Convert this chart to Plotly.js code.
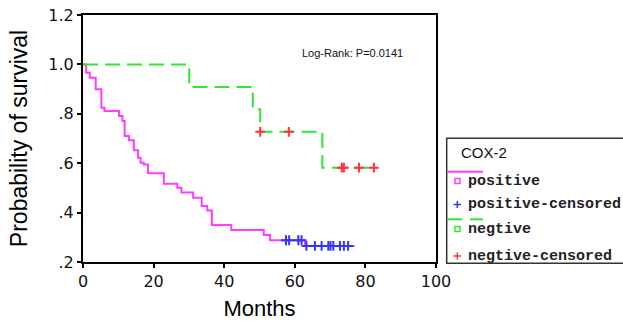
<!DOCTYPE html>
<html>
<head>
<meta charset="utf-8">
<script src="https://cdn.plot.ly/plotly-3.0.1.min.js"></script>
<style>html,body{margin:0;padding:0;background:#fff;}#chart{width:623px;height:324px;}</style>
</head>
<body>
<div id="chart"></div>
<script>
// ---- Data ----
const posTime = [0, 0.9, 1.9, 3.6, 5.2, 6.1, 10.2, 11.2, 11.8, 13.0, 14.4, 15.6, 16.3, 17.2, 18.4, 22.9, 26.7, 27.9, 31.2, 33.6, 35.2, 36.5, 42.0, 51.2, 53.0, 62.9, 77.0];
const posSurv = [1.0, 0.966, 0.946, 0.899, 0.825, 0.811, 0.791, 0.771, 0.710, 0.693, 0.652, 0.622, 0.602, 0.595, 0.559, 0.517, 0.501, 0.481, 0.460, 0.427, 0.409, 0.350, 0.330, 0.309, 0.288, 0.265, 0.265];
const posCensTime = [57.5, 58.4, 61.0, 61.9, 63.3, 65.7, 67.6, 69.5, 70.1, 70.9, 72.8, 73.9, 75.1];
const posCensSurv = [0.288, 0.288, 0.288, 0.288, 0.265, 0.265, 0.265, 0.265, 0.265, 0.265, 0.265, 0.265, 0.265];

const negTime = [0, 30.1, 48.1, 50.2, 67.8, 83.0];
const negSurv = [1.0, 0.909, 0.818, 0.727, 0.582, 0.582];
const negCensTime = [50.2, 58.3, 73.3, 73.9, 78.2, 82.4];
const negCensSurv = [0.727, 0.727, 0.582, 0.582, 0.582, 0.582];

const xTicks = [0, 20, 40, 60, 80, 100];
const yTickVals = [0.2, 0.4, 0.6, 0.8, 1.0, 1.2];
const yTickText = ['.2', '.4', '.6', '.8', '1.0', '1.2'];
const legendTitle = 'COX-2';
const legendLabels = ['positive', 'positive-censored', 'negtive', 'negtive-censored'];
const pText = 'Log-Rank: P=0.0141';

// ---- Colours ----
const cPos = '#ff3cff', cPosC = '#3333ff', cNeg = '#33e633', cNegC = '#ff3333';

// ---- Geometry ----
const W = 623, H = 324;
const M = {l: 83, r: 187, t: 15, b: 62};
const PL = M.l, PR = W - M.r, PT = M.t, PB = H - M.b;
const px = v => (v - PL) / (PR - PL);
const py = v => (PB - v) / (PB - PT);

const traces = [
  {x: posTime, y: posSurv, mode: 'lines', line: {shape: 'hv', color: cPos, width: 2}, showlegend: false, name: 'positive'},
  {x: posCensTime, y: posCensSurv, mode: 'markers', marker: {symbol: 'cross-thin-open', size: 7, color: cPosC, line: {color: cPosC, width: 2}}, showlegend: false, name: 'positive-censored'},
  {x: negTime, y: negSurv, mode: 'lines', line: {shape: 'hv', color: cNeg, width: 2, dash: '15px,7px'}, showlegend: false, name: 'negtive'},
  {x: negCensTime, y: negCensSurv, mode: 'markers', marker: {symbol: 'cross-thin-open', size: 7, color: cNegC, line: {color: cNegC, width: 2}}, showlegend: false, name: 'negtive-censored'}
];

const shapes = [];
const annotations = [];
// legend box
shapes.push({type: 'rect', xref: 'paper', yref: 'paper', x0: px(446.7), x1: px(660), y0: py(263.3), y1: py(138.3), line: {color: '#333', width: 1.5}});
// positive line + square
shapes.push({type: 'line', xref: 'paper', yref: 'paper', x0: px(447), x1: px(483), y0: py(171.7), y1: py(171.7), line: {color: cPos, width: 2}});
shapes.push({type: 'rect', xref: 'paper', yref: 'paper', x0: px(455), x1: px(460), y0: py(183.5), y1: py(178.5), line: {color: cPos, width: 1.5}});
// positive censored plus
shapes.push({type: 'line', xref: 'paper', yref: 'paper', x0: px(453.5), x1: px(461), y0: py(204.5), y1: py(204.5), line: {color: cPosC, width: 1.5}});
shapes.push({type: 'line', xref: 'paper', yref: 'paper', x0: px(457.3), x1: px(457.3), y0: py(201), y1: py(208), line: {color: cPosC, width: 1.5}});
// negative dashed line + square
shapes.push({type: 'line', xref: 'paper', yref: 'paper', x0: px(447), x1: px(462), y0: py(219.3), y1: py(219.3), line: {color: cNeg, width: 2}});
shapes.push({type: 'line', xref: 'paper', yref: 'paper', x0: px(470), x1: px(483), y0: py(219.3), y1: py(219.3), line: {color: cNeg, width: 2}});
shapes.push({type: 'rect', xref: 'paper', yref: 'paper', x0: px(455), x1: px(460), y0: py(231.5), y1: py(226.5), line: {color: cNeg, width: 1.5}});
// negative censored plus
shapes.push({type: 'line', xref: 'paper', yref: 'paper', x0: px(453.5), x1: px(461), y0: py(256), y1: py(256), line: {color: cNegC, width: 1.5}});
shapes.push({type: 'line', xref: 'paper', yref: 'paper', x0: px(457.3), x1: px(457.3), y0: py(252.5), y1: py(259.5), line: {color: cNegC, width: 1.5}});

annotations.push({xref: 'paper', yref: 'paper', x: px(459), y: py(152.3), xanchor: 'left', yanchor: 'middle', showarrow: false, text: legendTitle, font: {family: 'Liberation Sans, Arial', size: 15, color: '#111'}});
const legY = [181, 205, 229, 256];
legendLabels.forEach((t, i) => annotations.push({xref: 'paper', yref: 'paper', x: px(466), y: py(legY[i]), xanchor: 'left', yanchor: 'middle', showarrow: false, text: '<b>' + t + '</b>', font: {family: 'Liberation Mono, Courier New', size: 15, color: '#222'}}));
annotations.push({xref: 'paper', yref: 'paper', x: px(352), y: py(53.3), xanchor: 'center', yanchor: 'middle', showarrow: false, text: pText, font: {family: 'Liberation Sans, Arial', size: 11, color: '#111'}});

const layout = {
  width: W, height: H,
  margin: M,
  paper_bgcolor: '#fff', plot_bgcolor: '#fff',
  showlegend: false,
  xaxis: {
    range: [0, 100], tickvals: xTicks, ticktext: xTicks.map(String),
    showline: true, mirror: true, linecolor: '#000', linewidth: 2,
    ticks: 'outside', ticklen: 4, tickwidth: 2, tickcolor: '#000',
    showgrid: false, zeroline: false,
    tickfont: {family: 'DejaVu Sans', size: 16, color: '#111'},
    title: {text: 'Months', font: {family: 'Liberation Sans, Arial', size: 22, color: '#000'}, standoff: 10}
  },
  yaxis: {
    range: [0.2, 1.2], tickvals: yTickVals, ticktext: yTickText,
    showline: true, mirror: true, linecolor: '#000', linewidth: 2,
    ticks: 'outside', ticklen: 4, tickwidth: 2, tickcolor: '#000',
    showgrid: false, zeroline: false,
    tickfont: {family: 'DejaVu Sans', size: 16, color: '#111'},
    title: {text: 'Probability of survival', font: {family: 'Liberation Sans, Arial', size: 23, color: '#000'}, standoff: 14}
  },
  shapes: shapes,
  annotations: annotations
};

Plotly.newPlot('chart', traces, layout, {displayModeBar: false, staticPlot: true});
</script>
</body>
</html>
